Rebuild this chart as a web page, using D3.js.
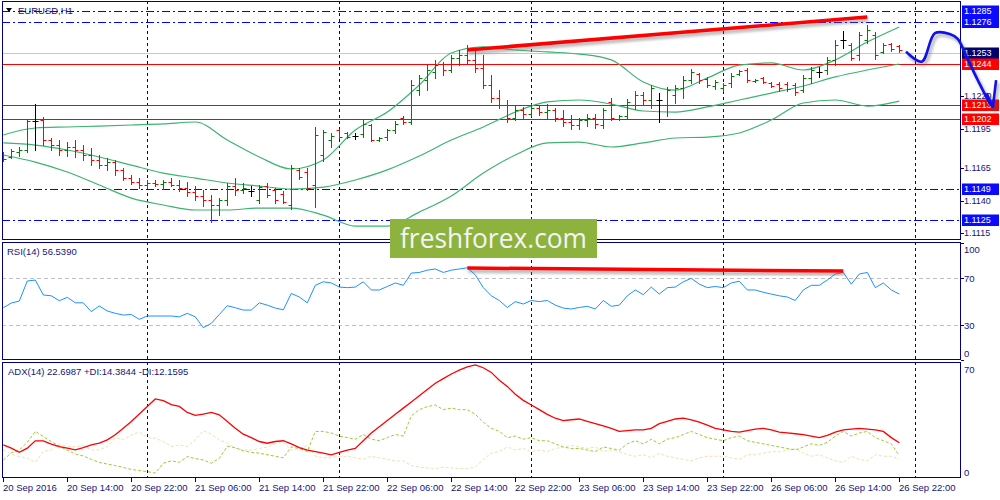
<!DOCTYPE html>
<html><head><meta charset="utf-8">
<script src="https://cdn.jsdelivr.net/npm/d3@7"></script>
<style>body{margin:0;background:#fff;}svg{display:block;}text{font-family:"Liberation Sans",Arial,sans-serif;font-size:9.5px;}</style>
</head><body><svg id="c" width="1000" height="500"></svg>
<script>
// ---------- DATA ----------
const symbolTitle = "EURUSD,H1";
const timeLabels = ["20 Sep 2016","20 Sep 14:00","20 Sep 22:00","21 Sep 06:00","21 Sep 14:00","21 Sep 22:00","22 Sep 06:00","22 Sep 14:00","22 Sep 22:00","23 Sep 06:00","23 Sep 14:00","23 Sep 22:00","26 Sep 06:00","26 Sep 14:00","26 Sep 22:00"];
const timeLabelBars = [0,8,16,24,32,40,48,56,64,72,80,88,96,104,112];
const daySeparatorBars = [18,42,66,90,114];
// [open, high, low, close]
const ohlc = [
[1.11756,1.11771,1.11702,1.11717],[1.11733,1.11794,1.11725,1.11778],[1.11771,1.11809,1.11740,1.11786],[1.11786,1.12023,1.11771,1.12008],
[1.12008,1.12137,1.11786,1.12008],[1.12015,1.12038,1.11824,1.11862],[1.11862,1.11878,1.11786,1.11824],[1.11824,1.11862,1.11748,1.11786],
[1.11786,1.11847,1.11740,1.11809],[1.11809,1.11862,1.11733,1.11786],[1.11786,1.11824,1.11710,1.11748],[1.11748,1.11801,1.11671,1.11710],
[1.11710,1.11748,1.11648,1.11671],[1.11671,1.11725,1.11634,1.11694],[1.11694,1.11710,1.11595,1.11634],[1.11634,1.11648,1.11557,1.11572],
[1.11572,1.11595,1.11526,1.11542],[1.11542,1.11572,1.11496,1.11519],[1.11519,1.11557,1.11496,1.11534],[1.11534,1.11557,1.11511,1.11526],
[1.11526,1.11557,1.11488,1.11542],[1.11542,1.11572,1.11511,1.11519],[1.11519,1.11557,1.11473,1.11496],[1.11496,1.11542,1.11435,1.11465],
[1.11465,1.11511,1.11404,1.11435],[1.11435,1.11481,1.11358,1.11404],[1.11404,1.11442,1.11236,1.11366],[1.11366,1.11419,1.11289,1.11404],
[1.11404,1.11534,1.11366,1.11511],[1.11511,1.11572,1.11442,1.11481],[1.11481,1.11534,1.11457,1.11496],[1.11473,1.11511,1.11435,1.11473],
[1.11404,1.11519,1.11381,1.11503],[1.11511,1.11534,1.11427,1.11442],[1.11481,1.11496,1.11381,1.11404],[1.11450,1.11473,1.11381,1.11389],
[1.11366,1.11671,1.11335,1.11648],[1.11634,1.11648,1.11564,1.11580],[1.11618,1.11648,1.11481,1.11496],[1.11519,1.11962,1.11351,1.11901],
[1.11748,1.11939,1.11702,1.11924],[1.11862,1.11916,1.11809,1.11893],[1.11939,1.11946,1.11878,1.11885],[1.11916,1.11924,1.11878,1.11885],
[1.11893,1.11916,1.11870,1.11893],[1.11908,1.12015,1.11885,1.11985],[1.11977,1.11985,1.11855,1.11862],[1.11862,1.11885,1.11855,1.11878],
[1.11885,1.11946,1.11862,1.11939],[1.11939,1.12008,1.11916,1.11985],[1.12031,1.12046,1.11985,1.12000],[1.12000,1.12321,1.11985,1.12283],
[1.12244,1.12359,1.12206,1.12336],[1.12321,1.12435,1.12244,1.12397],[1.12382,1.12474,1.12336,1.12435],[1.12443,1.12458,1.12359,1.12397],
[1.12397,1.12512,1.12382,1.12489],[1.12489,1.12550,1.12435,1.12512],[1.12512,1.12588,1.12443,1.12474],[1.12474,1.12550,1.12382,1.12412],
[1.12412,1.12512,1.12260,1.12283],[1.12283,1.12359,1.12153,1.12183],[1.12183,1.12244,1.12107,1.12130],[1.12130,1.12168,1.12000,1.12031],
[1.12031,1.12130,1.12015,1.12092],[1.12092,1.12115,1.12031,1.12061],[1.12061,1.12137,1.12046,1.12107],[1.12107,1.12130,1.12053,1.12076],
[1.12076,1.12137,1.12031,1.12092],[1.12092,1.12107,1.12008,1.12031],[1.12031,1.12092,1.11969,1.12000],[1.12000,1.12053,1.11946,1.11977],
[1.11977,1.12031,1.11946,1.12015],[1.12015,1.12061,1.11969,1.12031],[1.12031,1.12061,1.11954,1.11985],[1.11977,1.12107,1.11954,1.12092],
[1.12153,1.12183,1.12015,1.12031],[1.12023,1.12053,1.12015,1.12046],[1.12046,1.12176,1.12023,1.12153],[1.12130,1.12237,1.12099,1.12206],
[1.12206,1.12229,1.12137,1.12168],[1.12168,1.12283,1.12107,1.12260],[1.12168,1.12221,1.12000,1.12168],[1.12130,1.12267,1.12046,1.12244],
[1.12206,1.12283,1.12145,1.12260],[1.12260,1.12351,1.12183,1.12321],[1.12321,1.12405,1.12298,1.12382],[1.12367,1.12374,1.12298,1.12321],
[1.12328,1.12344,1.12267,1.12283],[1.12275,1.12321,1.12252,1.12306],[1.12260,1.12298,1.12237,1.12283],[1.12298,1.12374,1.12267,1.12351],
[1.12367,1.12397,1.12359,1.12390],[1.12397,1.12412,1.12306,1.12321],[1.12313,1.12328,1.12306,1.12321],[1.12336,1.12344,1.12298,1.12306],
[1.12298,1.12306,1.12267,1.12275],[1.12290,1.12306,1.12237,1.12260],[1.12290,1.12306,1.12237,1.12252],[1.12283,1.12298,1.12206,1.12229],
[1.12244,1.12359,1.12229,1.12336],[1.12336,1.12420,1.12298,1.12397],[1.12382,1.12420,1.12344,1.12382],[1.12397,1.12497,1.12367,1.12474],
[1.12474,1.12626,1.12435,1.12588],[1.12626,1.12695,1.12565,1.12626],[1.12588,1.12603,1.12474,1.12489],[1.12512,1.12688,1.12474,1.12665],
[1.12626,1.12741,1.12603,1.12703],[1.12665,1.12688,1.12481,1.12512],[1.12535,1.12603,1.12527,1.12588],[1.12596,1.12603,1.12542,1.12558],
[1.12581,1.12588,1.12535,1.12550]
];
const bbBars   = [0,4,8,12,16,20,24,28,32,36,40,44,48,52,56,60,64,68,72,76,80,84,88,92,96,100,104,108,112];
const bbUpper  = [1.11901,1.11954,1.11962,1.11969,1.11977,1.11985,1.12000,1.11862,1.11733,1.11641,1.11710,1.11939,1.12076,1.12283,1.12527,1.12573,1.12550,1.12535,1.12519,1.12474,1.12306,1.12244,1.12336,1.12435,1.12451,1.12397,1.12474,1.12611,1.12726];
const bbMiddle = [1.11840,1.11824,1.11786,1.11733,1.11671,1.11610,1.11572,1.11534,1.11511,1.11488,1.11503,1.11557,1.11634,1.11740,1.11862,1.11962,1.12076,1.12153,1.12168,1.12137,1.12084,1.12076,1.12115,1.12168,1.12221,1.12275,1.12344,1.12397,1.12443];
const bbLower  = [1.11748,1.11694,1.11618,1.11519,1.11419,1.11366,1.11328,1.11328,1.11343,1.11343,1.11289,1.11205,1.11205,1.11312,1.11435,1.11610,1.11748,1.11840,1.11847,1.11809,1.11840,1.11878,1.11885,1.11916,1.12015,1.12145,1.12168,1.12122,1.12160];
const rsiValues = [44.8,48.8,50.5,67.7,68.5,55.7,55,50.8,53.7,49,49,41.4,46.3,42,40,38.5,39,34.8,37.7,37.7,37.7,37.7,37,40,37,27.7,31.4,39,46.5,44.8,42.8,42.8,
49,47,44.5,43,57,54,49,64,67,66,62.5,62,62.5,67,60,60,63,66,64,74.5,75,77,78,75,77,78,79,73,62,55,51,45,50,48,51,50,51,47,44.5,43.7,45,46,43.7,51,46,47,55,60,56,62.5,56.5,62,62.5,67,70,65,62,63,62,66,67.5,60,60,58,56.5,55,54,51,60,64,64,68.5,73.7,75,65,73.7,75,62,66,60,56.5];
const adxValues = [21.3,19.2,16.6,19.2,23.9,23.9,21.8,20.2,19.2,18.1,19.6,21.3,22.4,24.6,27.8,32.1,36.4,41.2,46.1,50.9,49.8,47.2,46.1,42.2,40.3,41.2,42.2,40.7,36.4,32.1,28.2,26,
23.5,22.4,23.5,24,22,19.6,18,17,16,14.9,16.5,18,19,24,29,33,37,41,45,49,53,57,61,64,67,69.5,71.5,72.8,71,68,63,59,54,50,47,44,41,38.5,37,37.5,38,36.5,35,33.5,32,30,30.5,31,31,32,35,36.5,38,38.5,37.5,36,34,32,31,30,29.6,30.5,31.5,32,31,29.6,29,28.5,28,27,26,27.5,29.5,31,31.5,32,31.5,31,30,26,22.7];
const plusDI = [11.6,16.2,18,23,30,26.7,23.5,20.5,17.8,15.5,14.2,12,10,9,8,6.8,5.5,4.8,4.1,3.2,9.5,11,10.1,13.8,12.5,11.6,9.5,12.7,20.5,19.5,17.5,16.5,
16,15,14,13,20,19,17,30,30,29,27,26,25,28,25,24,26,28,27,40,44,46,47,44,45,44,44,41,36,32,30,26,27,25,26,24,24,22,20,19,19,18,17,20,19,18,22,24,22,25,22,25,26,28,30,28,26,25,24,26,27,24,23,22,21,20,19,18,20,22,21,23,27,30,27,29,30,26,24,22,14.4];
const minusDI = [18.1,15.3,13.8,12.7,10.1,17,18.1,22,20.2,20.2,20.9,18.1,18.1,20.2,26,24.6,27.8,29.5,26,25.6,23.5,20.2,21.3,20.2,24.6,30.4,28.2,24.6,22.4,19.2,18.1,18,
19,20,22,23,18,19,21,14,13,13,14,14,13,12,14,13,12,11,11,8,7,6.5,6,7,6.5,6,6,7,12,16,17,20,18,19,17,18,17,19,20,21,20,19,20,17,18,17,15,14,15,13,16,14,13,12,11,13,14,14,14,13,12,15,15,16,17,17,18,19,16,14,15,13,11,10,14,12,11,15,14,14,12.2];
const redLevels  = [1.1244,1.1213,1.1202];
const blueLevels = [1.1285,1.1276,1.1149,1.1125];
const bidPrice = 1.1253;
const priceTicks = [1.1115,1.1140,1.1165,1.1195,1.1220];
const rsiTicks = [[100,249],[70,278],[30,325],[0,353]];
const adxTicks = [[70,369],[0,472]];
const priceTrend = [[58,1.1255],[108,1.12802]];
const rsiTrend = [[58,78.8],[105,76.2]];
const forecastPath = [[112.84,1.12537],[114.8,1.12461],[116.46,1.12678],[118.3,1.12672],[119.3,1.12634],[120.4,1.12499],[121.8,1.12321],[123.3,1.12145],[123.7,1.12115]];
const arrowHead = [[122.9,1.1222],[123.7,1.12115],[124.1,1.1232]];
const rsiLabel = "RSI(14) 56.5390";
const adxLabel = "ADX(14) 22.6987 +DI:14.3844 -DI:12.1595";
const watermark = "freshforex.com";

// ---------- DRAW ----------
const svg = d3.select("#c");
const NAVY = "#000080", TXT = "#14147a";
const x  = d3.scaleLinear().domain([0,120]).range([3.3,963.3]);
const yP = d3.scaleLinear().domain([1.1115,1.1285]).range([233.3,10.7]);
const yR = d3.scaleLinear().domain([0,100]).range([360,243.3]);
const yA = d3.scaleLinear().domain([0,70]).range([478,369.3]);
const L = 2, R = 961;
const panels = [{id:"p0",top:1,bot:240},{id:"p1",top:242,bot:360},{id:"p2",top:362,bot:478}];
const defs = svg.append("defs");
panels.forEach(p=>defs.append("clipPath").attr("id",p.id).append("rect").attr("x",L).attr("y",p.top).attr("width",R-L).attr("height",p.bot-p.top));
const blur = defs.append("filter").attr("id","sh").attr("x","-10%").attr("y","-50%").attr("width","120%").attr("height","200%");
blur.append("feGaussianBlur").attr("stdDeviation",1.6);
const px = v => Math.round(x(v))+0.5;

// day separators
panels.forEach(p=>{
  svg.append("g").selectAll("line").data(daySeparatorBars).join("line")
    .attr("x1",d=>px(d)).attr("x2",d=>px(d)).attr("y1",p.top).attr("y2",p.bot)
    .attr("stroke",NAVY).attr("stroke-dasharray","3,3").attr("clip-path",`url(#${p.id})`);
});

// main panel
const g0 = svg.append("g").attr("clip-path","url(#p0)");
g0.append("line").attr("x1",L).attr("x2",R).attr("y1",Math.round(yP(bidPrice))+0.5).attr("y2",Math.round(yP(bidPrice))+0.5).attr("stroke","#c8c8c8");
g0.selectAll(".bl").data(blueLevels).join("line").attr("x1",L).attr("x2",R)
  .attr("y1",d=>Math.round(yP(d))+0.5).attr("y2",d=>Math.round(yP(d))+0.5)
  .attr("stroke","#0000ff").attr("stroke-width",1.2).attr("stroke-dasharray","8,3,2,3");
g0.selectAll(".rl").data(redLevels).join("line").attr("x1",L).attr("x2",R)
  .attr("y1",d=>Math.round(yP(d))+0.5).attr("y2",d=>Math.round(yP(d))+0.5)
  .attr("stroke","#ff0000").attr("stroke-width",1.2);
[bbUpper,bbMiddle,bbLower].forEach(arr=>{
  g0.append("path").datum(arr).attr("fill","none").attr("stroke","#3cb371").attr("stroke-width",1.2)
    .attr("d",d3.line().x((d,i)=>x(bbBars[i])).y(d=>yP(d)).curve(d3.curveMonotoneX));
});
const bg = g0.selectAll(".bar").data(ohlc).join("g").attr("stroke",d=>d[3]>d[0]?"#008000":(d[3]<d[0]?"#ff0000":"#000000"));
bg.append("line").attr("x1",(d,i)=>px(i)).attr("x2",(d,i)=>px(i)).attr("y1",d=>Math.round(yP(d[1]))).attr("y2",d=>Math.round(yP(d[2]))+1);
bg.append("line").attr("x1",(d,i)=>px(i)-3).attr("x2",(d,i)=>px(i)).attr("y1",d=>Math.round(yP(d[0]))+0.5).attr("y2",d=>Math.round(yP(d[0]))+0.5);
bg.append("line").attr("x1",(d,i)=>px(i)).attr("x2",(d,i)=>px(i)+3).attr("y1",d=>Math.round(yP(d[3]))+0.5).attr("y2",d=>Math.round(yP(d[3]))+0.5);
// trend line main
const tl = d3.line().x(d=>x(d[0])).y(d=>yP(d[1]));
g0.append("path").datum(priceTrend).attr("d",tl).attr("stroke","#666").attr("stroke-width",3.5).attr("opacity",0.5).attr("transform","translate(1,3)").attr("filter","url(#sh)");
g0.append("path").datum(priceTrend).attr("d",tl).attr("stroke","#ff0000").attr("stroke-width",3.5);

// title
svg.append("path").attr("d","M6,8 L12,8 L9,12 Z").attr("fill","#000");
svg.append("text").attr("x",18).attr("y",14).attr("fill",TXT).text(symbolTitle);

// RSI panel
const g1 = svg.append("g").attr("clip-path","url(#p1)");
g1.selectAll(".lv").data([70,30]).join("line").attr("x1",L).attr("x2",R)
  .attr("y1",d=>Math.round(yR(d))+0.5).attr("y2",d=>Math.round(yR(d))+0.5).attr("stroke","#c0c0c0").attr("stroke-dasharray","4,3");
g1.append("path").datum(rsiValues).attr("fill","none").attr("stroke","#1e90ff").attr("stroke-width",1)
  .attr("d",d3.line().x((d,i)=>x(i)).y(d=>yR(d)));
const rl = d3.line().x(d=>x(d[0])).y(d=>yR(d[1]));
g1.append("path").datum(rsiTrend).attr("d",rl).attr("stroke","#666").attr("stroke-width",3.5).attr("opacity",0.5).attr("transform","translate(1,3)").attr("filter","url(#sh)");
g1.append("path").datum(rsiTrend).attr("d",rl).attr("stroke","#ff0000").attr("stroke-width",3.5);
svg.append("text").attr("x",7).attr("y",255).attr("fill",TXT).text(rsiLabel);

// ADX panel
const g2 = svg.append("g").attr("clip-path","url(#p2)");
g2.append("path").datum(minusDI).attr("fill","none").attr("stroke","#f5deb3").attr("stroke-width",1).attr("stroke-dasharray","3,2")
  .attr("d",d3.line().x((d,i)=>x(i)).y(d=>yA(d)));
g2.append("path").datum(plusDI).attr("fill","none").attr("stroke","#9acd32").attr("stroke-width",1).attr("stroke-dasharray","3,2")
  .attr("d",d3.line().x((d,i)=>x(i)).y(d=>yA(d)));
g2.append("path").datum(adxValues).attr("fill","none").attr("stroke","#ff0000").attr("stroke-width",1.3)
  .attr("d",d3.line().x((d,i)=>x(i)).y(d=>yA(d)));
svg.append("text").attr("x",8).attr("y",375).attr("fill",TXT).text(adxLabel);

// panel borders
panels.forEach(p=>svg.append("rect").attr("x",L+0.5).attr("y",p.top+0.5).attr("width",R-L-1).attr("height",p.bot-p.top-1)
  .attr("fill","none").attr("stroke",NAVY));

// price axis
const ax = svg.append("g");
priceTicks.forEach(t=>{
  const yy = Math.round(yP(t));
  ax.append("line").attr("x1",R).attr("x2",R+3).attr("y1",yy+0.5).attr("y2",yy+0.5).attr("stroke",NAVY);
  ax.append("text").attr("x",964).attr("y",yy+2.5).attr("fill",TXT).style("font-size","9px").text(t.toFixed(4));
});
rsiTicks.forEach(t=>{
  ax.append("line").attr("x1",R).attr("x2",R+3).attr("y1",Math.round(yR(t[0]))+0.5).attr("y2",Math.round(yR(t[0]))+0.5).attr("stroke",NAVY);
  ax.append("text").attr("x",964).attr("y",t[1]+3.5).attr("fill",TXT).text(t[0]);
});
adxTicks.forEach(t=>{
  ax.append("text").attr("x",964).attr("y",t[1]+3.5).attr("fill",TXT).text(t[0]);
});
const boxes = [...blueLevels.map(v=>[v,"#0a0aff"]),[bidPrice,"#000070"],...redLevels.map(v=>[v,"#ff0000"])];
boxes.forEach(b=>{
  const yy = Math.round(yP(b[0]));
  ax.append("rect").attr("x",962).attr("y",yy-5.5).attr("width",37).attr("height",11.5).attr("fill",b[1]);
  ax.append("text").attr("x",964).attr("y",yy+3.3).attr("fill","#fff").style("font-size","9px").text(b[0].toFixed(4));
});

// time axis
timeLabelBars.forEach((b,i)=>{
  ax.append("line").attr("x1",px(b)).attr("x2",px(b)).attr("y1",478).attr("y2",482).attr("stroke",NAVY);
  ax.append("text").attr("x",px(b)-0.5).attr("y",491).attr("fill",TXT).text(timeLabels[i]);
});

// watermark
svg.append("rect").attr("x",390).attr("y",219).attr("width",207).attr("height",39).attr("fill","#8db33e");
svg.append("text").attr("x",400).attr("y",248).attr("fill","#f4f4f4").attr("textLength",187).attr("lengthAdjust","spacingAndGlyphs")
  .style("font-family","'Open Sans',sans-serif").style("font-size","27px").text(watermark);

// forecast arrow
const fl = d3.line().x(d=>x(d[0])).y(d=>yP(d[1])).curve(d3.curveCatmullRom);
const al = d3.line().x(d=>x(d[0])).y(d=>yP(d[1]));
[[forecastPath,fl],[arrowHead,al]].forEach(([dat,gen])=>{
  svg.append("path").datum(dat).attr("d",gen).attr("fill","none").attr("stroke","#555").attr("stroke-width",3).attr("opacity",0.45).attr("transform","translate(2,3)").attr("filter","url(#sh)");
});
[[forecastPath,fl],[arrowHead,al]].forEach(([dat,gen])=>{
  svg.append("path").datum(dat).attr("d",gen).attr("fill","none").attr("stroke","#1010ee").attr("stroke-width",2.6).attr("stroke-linejoin","round");
});
</script></body></html>
